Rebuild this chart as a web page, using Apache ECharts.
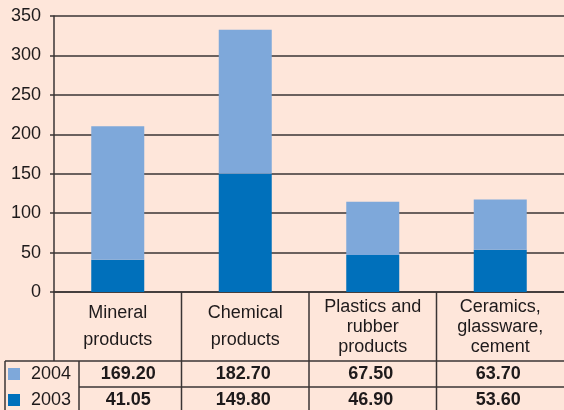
<!DOCTYPE html>
<html>
<head>
<meta charset="utf-8">
<script src="https://cdn.jsdelivr.net/npm/echarts@6/dist/echarts.min.js"></script>
<style>
  html, body { margin: 0; padding: 0; background: #fee6da; }
  #chart { width: 564px; height: 410px; }
</style>
</head>
<body>
<div id="chart"></div>
<script>
// Category names (rich-text tag chooses line spacing for 2- or 3-line names)
const categories = [
  '{two|Mineral}\n{two|products}',
  '{two|Chemical}\n{two|products}',
  '{three|Plastics and}\n{three|rubber}\n{three|products}',
  '{three|Ceramics,}\n{three|glassware,}\n{three|cement}'
];
const values2004 = [169.20, 182.70, 67.50, 63.70];
const values2003 = [41.05, 149.80, 46.90, 53.60];
const yTicks = { min: 0, max: 350, interval: 50 };

const FONT = "'Liberation Sans', Arial, sans-serif";
const INK = '#1e1a1b';
const LINE = '#3a3535';
const DARK = '#0070bb';
const LIGHT = '#7ea8da';

const chart = echarts.init(document.getElementById('chart'), null, { renderer: 'canvas' });

chart.setOption({
  backgroundColor: '#fee6da',
  animation: false,
  textStyle: { fontFamily: FONT },
  grid: { left: 54, right: -6, top: 16, bottom: 118, containLabel: false },
  legend: {
    orient: 'vertical',
    left: 8, top: 365, width: 80, height: 60,
    padding: 0,
    itemWidth: 12, itemHeight: 12, itemGap: 8,
    icon: 'rect',
    data: ['2004', '2003'],
    textStyle: { fontSize: 18, color: INK, fontFamily: FONT, padding: [0, 0, 0, 6] }
  },
  xAxis: {
    type: 'category',
    data: categories,
    axisLine: { show: true, lineStyle: { color: LINE, width: 1.5 } },
    axisTick: { show: false },
    axisLabel: {
      interval: 0,
      margin: 35,
      verticalAlign: 'middle',
      align: 'center',
      color: INK,
      fontFamily: FONT,
      fontSize: 18,
      rich: {
        two: { fontSize: 18, lineHeight: 27, color: INK, fontFamily: FONT },
        three: { fontSize: 18, lineHeight: 20, color: INK, fontFamily: FONT }
      }
    }
  },
  yAxis: {
    type: 'value',
    min: yTicks.min, max: yTicks.max, interval: yTicks.interval,
    axisLine: { show: true, lineStyle: { color: LINE, width: 1.5 } },
    axisTick: { show: true, length: 4, lineStyle: { color: LINE, width: 1.5 } },
    axisLabel: { margin: 13, color: INK, fontSize: 18, fontFamily: FONT },
    splitLine: { show: true, lineStyle: { color: LINE, width: 1.5 } }
  },
  series: [
    {
      name: '2003', type: 'bar', stack: 'total', barWidth: 53,
      itemStyle: { color: DARK }, data: values2003
    },
    {
      name: '2004', type: 'bar', stack: 'total', barWidth: 53,
      itemStyle: { color: LIGHT }, data: values2004
    }
  ]
});

// Data table under the category axis, laid out from the axis band positions
function drawTable() {
  const centers = categories.map((c, i) => chart.convertToPixel({ xAxisIndex: 0 }, i));
  const band = centers[1] - centers[0];
  const y0 = chart.convertToPixel({ yAxisIndex: 0 }, 0);
  const headerBottom = y0 + 69;
  const rowBottom = headerBottom + 26;
  const bottom = 410;
  const legendLeft = 5, legendRight = 79;
  const W = chart.getWidth();
  const ls = { stroke: LINE, lineWidth: 1.5 };
  const g = [];
  const line = (x1, y1, x2, y2) => g.push({ type: 'line', shape: { x1, y1, x2, y2 }, style: ls, silent: true });

  const firstLeft = centers[0] - band / 2;
  line(firstLeft, y0, firstLeft, headerBottom);
  for (let i = 1; i < centers.length; i++) {
    const x = centers[i] - band / 2;
    line(x, y0, x, bottom);
  }
  line(legendLeft, headerBottom, W, headerBottom);
  line(legendRight, rowBottom, W, rowBottom);
  line(legendLeft, headerBottom, legendLeft, bottom);
  line(legendRight, headerBottom, legendRight, bottom);

  const rows = [values2004, values2003];
  const rowCenters = [headerBottom + 13.5, rowBottom + 13.5];
  rows.forEach((vals, r) => {
    vals.forEach((v, i) => {
      const left = Math.max(centers[i] - band / 2, legendRight);
      const right = centers[i] + band / 2;
      g.push({
        type: 'text', silent: true,
        x: (left + right) / 2 - 2,
        y: rowCenters[r],
        style: {
          text: v.toFixed(2), fill: INK,
          font: 'bold 18px ' + FONT,
          align: 'center', verticalAlign: 'middle'
        }
      });
    });
  });
  chart.setOption({ graphic: g });
}
drawTable();
</script>
</body>
</html>
